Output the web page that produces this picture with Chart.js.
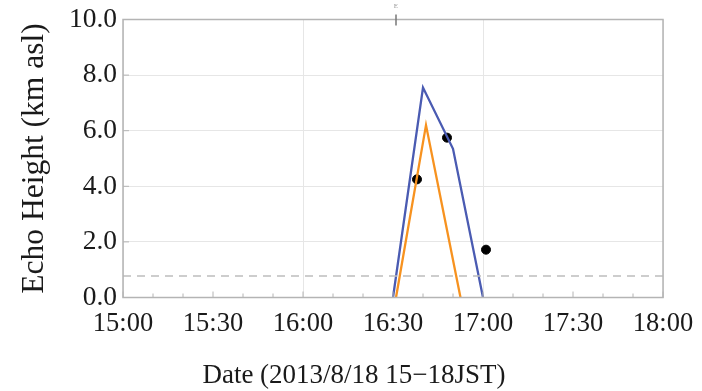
<!DOCTYPE html>
<html>
<head>
<meta charset="utf-8">
<script src="https://cdn.jsdelivr.net/npm/chart.js@4.4.1/dist/chart.umd.min.js"></script>
<style>
  html, body { margin: 0; padding: 0; background: #fff; }
  #wrap { width: 702px; height: 391px; position: relative; }
</style>
</head>
<body>
<div id="wrap"><canvas id="echoChart"></canvas></div>
<script>
const blueTimes = ['16:30', '16:40', '16:50', '17:00'];
const blueHeights = [0.0, 7.55, 5.35, 0.0];
const orangeTimes = ['16:31', '16:41', '16:45', '16:52.5'];
const orangeHeights = [0.0, 6.2, 4.05, 0.0];
const obsTimes = ['16:38', '16:48', '17:01'];
const obsHeights = [4.25, 5.75, 1.72];
const thresholdTimes = ['15:00', '18:00'];
const thresholdHeights = [0.77, 0.77];
const markerTime = '16:31';
const xTitle = 'Date (2013/8/18 15\u221218JST)';

const toMin = (t) => { const [h, m] = t.split(':').map(Number); return h * 60 + m; };
const fmtMin = (v) => Math.floor(v / 60) + ':' + String(v % 60).padStart(2, '0');
const pts = (times, vals) => times.map((t, i) => ({ x: toMin(t), y: vals[i] }));

const FONT = "'Liberation Serif', 'DejaVu Serif', serif";
const FRAME = '#b4b4b4';

// frame box, inside tick marks, small top marker and the x title (centred on the page)
const framePlugin = {
  id: 'frame',
  afterDraw(chart) {
    const { ctx, chartArea: a, scales } = chart;
    ctx.save();
    ctx.strokeStyle = FRAME;
    ctx.lineWidth = 1.5;
    ctx.strokeRect(a.left, a.top, a.right - a.left, a.bottom - a.top);
    ctx.lineWidth = 1;
    scales.x.ticks.forEach(t => {
      const px = scales.x.getPixelForValue(t.value);
      const len = t.value % 30 === 0 ? 6 : 4;
      ctx.beginPath();
      ctx.moveTo(px, a.bottom);
      ctx.lineTo(px, a.bottom - len);
      ctx.stroke();
    });
    scales.y.ticks.forEach(t => {
      const py = scales.y.getPixelForValue(t.value);
      const len = t.value % 2 === 0 ? 6 : 4;
      ctx.beginPath();
      ctx.moveTo(a.left, py);
      ctx.lineTo(a.left + len, py);
      ctx.stroke();
    });
    const mx = scales.x.getPixelForValue(toMin(markerTime));
    ctx.strokeStyle = '#777';
    ctx.lineWidth = 1.5;
    ctx.beginPath();
    ctx.moveTo(mx, a.top - 5);
    ctx.lineTo(mx, a.top + 6);
    ctx.stroke();
    ctx.fillStyle = '#999';
    ctx.font = '7px ' + FONT;
    ctx.textAlign = 'center';
    ctx.fillText('E', mx, a.top - 12);

    ctx.fillStyle = '#1a1a1a';
    ctx.font = '27px ' + FONT;
    ctx.textAlign = 'center';
    ctx.textBaseline = 'middle';
    ctx.fillText(xTitle, chart.width / 2 + 3, a.bottom + 78);
    ctx.restore();
  }
};

new Chart(document.getElementById('echoChart'), {
  type: 'line',
  data: {
    datasets: [
      {
        data: pts(thresholdTimes, thresholdHeights),
        borderColor: '#bdbdbd', borderWidth: 1.5, borderDash: [8, 6],
        pointRadius: 0, tension: 0
      },
      {
        data: pts(blueTimes, blueHeights),
        borderColor: '#4a5bb2', borderWidth: 2.3,
        pointRadius: 0, tension: 0
      },
      {
        data: pts(orangeTimes, orangeHeights),
        borderColor: '#f7921f', borderWidth: 2.3,
        pointRadius: 0, tension: 0
      },
      {
        data: pts(obsTimes, obsHeights),
        showLine: false,
        pointRadius: 4.5, pointBackgroundColor: '#000', pointBorderColor: '#000'
      }
    ]
  },
  options: {
    responsive: true,
    maintainAspectRatio: false,
    animation: false,
    layout: { padding: { top: 19.5, right: 39, left: 0, bottom: 0 } },
    plugins: { legend: { display: false }, tooltip: { enabled: false } },
    scales: {
      x: {
        type: 'linear',
        min: toMin(thresholdTimes[0]),
        max: toMin(thresholdTimes[1]),
        border: { display: false },
        grid: {
          drawTicks: false,
          color: (c) => (c.tick && c.tick.value % 60 === 0) ? '#e6e6e6' : 'rgba(0,0,0,0)',
          lineWidth: 1
        },
        ticks: {
          stepSize: 10, autoSkip: false, maxRotation: 0, padding: 11,
          color: '#1a1a1a',
          font: { family: FONT, size: 26.5 },
          callback: (v) => v % 30 === 0 ? fmtMin(v) : ''
        },
        afterFit: (s) => { s.height = 93.5; s.paddingLeft = 0; s.paddingRight = 0; }
      },
      y: {
        min: 0, max: 10,
        border: { display: false },
        grid: { drawTicks: false, color: '#e6e6e6', lineWidth: 1 },
        ticks: {
          stepSize: 1, padding: 6,
          color: '#1a1a1a',
          font: { family: FONT, size: 27.5 },
          callback: (v) => v % 2 === 0 ? v.toFixed(1) : ''
        },
        title: {
          display: true, text: 'Echo Height (km asl)',
          color: '#1a1a1a', font: { family: FONT, size: 31.5 },
          padding: { top: 16, bottom: 0 }
        },
        afterFit: (s) => { s.width = 123; s.paddingTop = 0; s.paddingBottom = 0; }
      }
    }
  },
  plugins: [framePlugin]
});
</script>
</body>
</html>
